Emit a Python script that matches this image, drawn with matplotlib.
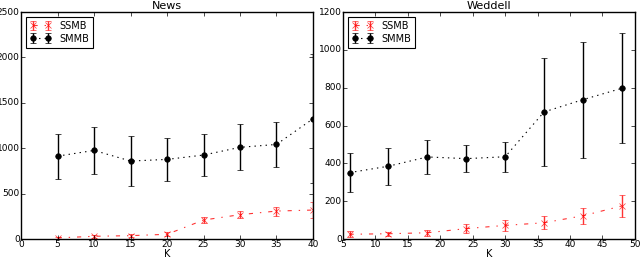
import matplotlib
matplotlib.use('Agg')
import matplotlib.pyplot as plt
import numpy as np

plt.style.use('classic')
plt.rcParams['font.family'] = 'DejaVu Sans'
plt.rcParams['font.size'] = 7

# News data
news_k = [5, 10, 15, 20, 25, 30, 35, 40]
news_ssmb = [12, 30, 37, 52, 209, 268, 308, 319]
news_ssmb_err = [10, 15, 20, 22, 35, 40, 50, 90]
news_smmb = [913, 976, 859, 877, 925, 1010, 1042, 1324]
news_smmb_err = [248, 260, 275, 235, 235, 255, 245, 710]

# Weddell data
wed_k = [6, 12, 18, 24, 30, 36, 42, 48]
wed_ssmb = [25, 28, 33, 55, 72, 86, 123, 175]
wed_ssmb_err = [15, 10, 15, 25, 30, 35, 42, 57]
wed_smmb = [351, 385, 434, 425, 435, 672, 737, 797]
wed_smmb_err = [102, 98, 92, 70, 80, 285, 307, 290]

fig = plt.figure(figsize=(6.4, 2.57), dpi=100)
fig.patch.set_facecolor('white')
ax1 = fig.add_axes([0.033, 0.070, 0.456, 0.883])
ax2 = fig.add_axes([0.536, 0.070, 0.456, 0.883])

def draw(ax, k, ssmb, ssmb_err, smmb, smmb_err, title, xlim, ylim, xticks, yticks):
    ax.errorbar(k, ssmb, yerr=ssmb_err, color='red', ecolor='red', marker='x',
                markersize=4, linestyle='-.', linewidth=0.8, elinewidth=1,
                capsize=2, label='SSMB', alpha=0.8)
    ax.errorbar(k, smmb, yerr=smmb_err, color='black', ecolor='black', marker='o',
                markersize=4, linestyle=':', linewidth=0.8, elinewidth=1,
                capsize=2, label='SMMB')
    ax.set_xlim(*xlim)
    ax.set_ylim(*ylim)
    ax.set_xticks(xticks)
    ax.set_yticks(yticks)
    ax.tick_params(labelsize=6.5, direction='in', length=3, pad=1)
    ax.set_title(title, fontsize=8, pad=2)
    ax.set_xlabel('K', fontsize=7, labelpad=0)
    leg = ax.legend(loc='upper left', numpoints=2, fontsize=7, borderpad=0.4,
                    handlelength=2.2, labelspacing=0.3, fancybox=False)
    leg.get_frame().set_linewidth(0.8)

draw(ax1, news_k, news_ssmb, news_ssmb_err, news_smmb, news_smmb_err, 'News',
     (0, 40), (0, 2500), range(0, 41, 5), range(0, 2501, 500))
draw(ax2, wed_k, wed_ssmb, wed_ssmb_err, wed_smmb, wed_smmb_err, 'Weddell',
     (5, 50), (0, 1200), range(5, 51, 5), range(0, 1201, 200))

fig.savefig('out.png', dpi=100, facecolor='white')
